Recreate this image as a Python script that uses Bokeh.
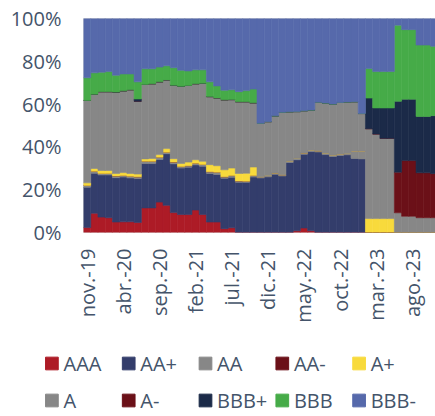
from math import pi
from bokeh.plotting import figure
from bokeh.models import ColumnDataSource, FixedTicker, Range1d
from bokeh.layouts import column
from bokeh.core.properties import value
from bokeh.embed import file_html
from bokeh.resources import INLINE

# ---- data (share of portfolio by rating, %), monthly nov-19 .. nov-23 ----
ratings = ["AAA", "AA+", "AA", "AA-", "A+", "A", "A-", "BBB+", "BBB", "BBB-"]
colors = ["#AD1B26", "#333D6B", "#878787", "#6B1018", "#F8DA3C",
          "#878787", "#6B1018", "#1B2A48", "#46AB48", "#5669AB"]

AAA = [2.3, 9.0, 7.2, 6.9, 4.9, 5.0, 5.0, 4.7, 11.5, 11.5, 14.2, 12.7, 9.3, 8.4, 8.4, 10.5, 8.4,
       4.9, 4.9, 1.8, 2.2, 0, 0, 0, 0, 0, 0, 0, 0, 0.8, 2.1, 0.8, 0, 0, 0, 0, 0, 0, 0,
       0, 0, 0, 0, 0, 0, 0, 0, 0, 0]
AA_plus = [18.9, 18.7, 19.7, 20.0, 20.7, 20.9, 20.5, 20.5, 20.7, 20.7, 19.9, 24.1, 22.8, 21.7, 22.1, 21.1, 22.6,
           22.7, 22.2, 23.5, 23.6, 23.5, 23.5, 25.9, 25.5, 26.0, 27.2, 26.4, 32.7, 33.2, 34.5, 37.0, 37.6, 36.4, 35.5, 36.0, 36.3, 34.6, 34.4,
           0, 0, 0, 0, 0, 0, 0, 0, 0, 0]
AA = [0.8, 0.9, 0.7, 0.7, 0.8, 0.7, 0.8, 0.8, 1.1, 1.1, 1.1, 0.7, 0.8, 0.7, 0.7, 0.8, 0.8,
      0.8, 1.1, 0.7, 0.8, 0.6, 0.5, 0.7, 0.6, 0.6, 0.6, 0.6, 0.6, 0.6, 0.6, 0.6, 0.6, 0.6, 0.6, 0.6, 0.6, 3.4, 3.6,
      0, 0, 0, 0, 0, 0, 0, 0, 0, 0]
AA_minus = [0] * 49
A_plus = [1.2, 1.3, 1.4, 1.4, 1.2, 1.4, 1.3, 1.3, 1.1, 1.3, 1.2, 1.7, 1.6, 1.5, 1.7, 1.6, 1.5,
          3.3, 3.0, 3.3, 3.5, 3.5, 3.7, 4.0, 0, 0, 0, 0, 0, 0, 0, 0, 0, 0, 0, 0, 0, 0, 0,
          6.5, 6.5, 6.5, 6.5, 0, 0, 0, 0, 0, 0]
A = [38.5, 34.7, 36.8, 36.8, 38.0, 38.2, 39.1, 34.0, 34.8, 34.9, 34.0, 32.1, 34.3, 36.0, 35.8, 35.5, 36.4,
     31.8, 31.7, 32.7, 32.0, 33.5, 33.4, 30.0, 24.9, 25.2, 26.7, 29.2, 23.1, 21.9, 19.7, 18.8, 22.7, 23.5, 23.9, 24.2, 24.1, 23.1, 17.6,
     42.0, 39.5, 37.5, 37.5, 9.2, 7.6, 7.6, 6.9, 6.9, 6.9]
A_minus = [0] * 43 + [19.0, 26.0, 26.0, 21.0, 21.0, 20.6]
BBB_plus = [0, 0, 0, 0, 0, 0, 0, 1.1] + [0] * 31 + [14.3, 12.2, 14.2, 14.2, 33.1, 28.7, 28.7, 26.3, 26.3, 27.1]
BBB = [10.6, 10.0, 9.1, 9.4, 7.9, 7.9, 7.4, 8.0, 7.3, 7.0, 6.9, 6.6, 8.2, 7.5, 6.8, 6.5, 6.3,
       6.9, 5.6, 4.5, 4.6, 4.7, 5.2, 6.4, 0, 0, 0, 0, 0, 0, 0, 0, 0, 0, 0, 0, 0, 0, 0,
       13.8, 17.0, 17.0, 17.0, 35.6, 32.5, 32.5, 33.4, 33.4, 32.4]
BBB_minus = [27.7, 25.4, 25.1, 24.8, 26.5, 25.9, 25.9, 29.6, 23.5, 23.5, 22.7, 22.1, 23.0, 24.2, 24.5, 24.0, 24.0,
             29.6, 31.5, 33.5, 33.3, 34.2, 33.7, 33.0, 49.0, 48.2, 45.5, 43.8, 43.6, 43.5, 43.1, 42.8, 39.1, 39.5, 40.0, 39.2, 39.0, 38.9, 44.4,
             23.4, 24.8, 24.8, 24.8, 3.1, 5.2, 5.2, 12.4, 12.4, 13.0]

x_ticks = [0, 5, 10, 15, 20, 25, 30, 35, 40, 45]
x_tick_labels = ["nov.-19", "abr.-20", "sep.-20", "feb.-21", "jul.-21",
                 "dic.-21", "may.-22", "oct.-22", "mar.-23", "ago.-23"]
y_ticks = [0, 20, 40, 60, 80, 100]
y_tick_labels = ["0%", "20%", "40%", "60%", "80%", "100%"]

series = [AAA, AA_plus, AA, AA_minus, A_plus, A, A_minus, BBB_plus, BBB, BBB_minus]

TEXT = "#44546A"
FONT = "Open Sans"
FS = "20px"

data = {"x": list(range(len(AAA)))}
for r, s in zip(ratings, series):
    data[r] = s
source = ColumnDataSource(data)

p = figure(width=435, height=340, x_range=Range1d(-0.5, 48.19), y_range=Range1d(0, 100),
           toolbar_location=None, output_backend="svg",
           min_border_left=83, min_border_right=0, min_border_top=18, min_border_bottom=108)
p.frame_align = False
p.vbar_stack(ratings, x="x", width=1.0, color=colors, line_width=0.6, source=source)

p.grid.visible = False
p.outline_line_color = "#D9D9D9"
p.background_fill_color = "white"
p.border_fill_color = "white"

for ax in (p.xaxis[0], p.yaxis[0]):
    ax.axis_line_color = None
    ax.major_tick_line_color = None
    ax.minor_tick_line_color = None
    ax.major_tick_out = 0
    ax.major_tick_in = 0
    ax.major_label_text_font = FONT
    ax.major_label_text_font_size = FS
    ax.major_label_text_color = TEXT

p.xaxis.ticker = FixedTicker(ticks=x_ticks)
p.xaxis.major_label_overrides = dict(zip(x_ticks, x_tick_labels))
p.xaxis.major_label_orientation = pi / 2
p.xaxis.major_label_standoff = 16

p.yaxis.ticker = FixedTicker(ticks=y_ticks)
p.yaxis.major_label_overrides = dict(zip(y_ticks, y_tick_labels))
p.yaxis.major_label_standoff = 22

# ---- legend panel (two rows of five) ----
leg = figure(width=435, height=76, x_range=Range1d(0, 435), y_range=Range1d(0, 76),
             toolbar_location=None, output_backend="svg", min_border=0)
leg.frame_align = False
leg.axis.visible = False
leg.grid.visible = False
leg.outline_line_color = None

sq_x = [51.4 + 76.8 * (i % 5) for i in range(len(ratings))]
sq_y = [53.0 if i < 5 else 16.0 for i in range(len(ratings))]
tx = [63.0 + 76.8 * (i % 5) for i in range(len(ratings))]
leg.rect(x=sq_x, y=sq_y, width=12.7, height=12.7, color=colors)
leg.text(x=tx, y=sq_y, text=ratings, text_baseline="middle", text_align="left",
         text_font=value(FONT), text_font_size=FS, text_color=TEXT)

layout = column(p, leg, spacing=0)
open("out.html", "w").write(file_html(layout, INLINE))
